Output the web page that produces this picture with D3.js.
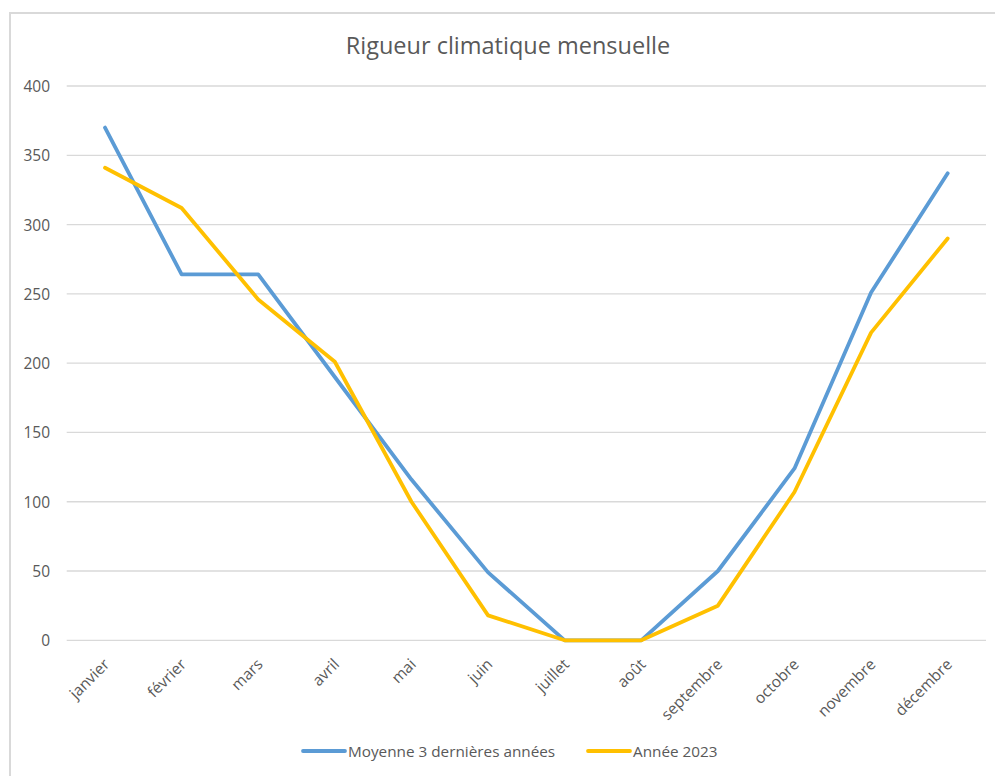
<!DOCTYPE html>
<html>
<head>
<meta charset="utf-8">
<script src="https://cdn.jsdelivr.net/npm/d3@7"></script>
<style>
  html, body { margin: 0; padding: 0; background: #fff; }
  svg { display: block; font-family: "Open Sans", "Noto Sans", sans-serif; }
</style>
</head>
<body>
<svg id="chart" width="995" height="776"></svg>
<script>
const months = ["janvier","février","mars","avril","mai","juin","juillet","août","septembre","octobre","novembre","décembre"];
const moyenne = [370, 264, 264, 190, 116, 49, 0, 0, 50, 124, 251, 337];
const annee2023 = [341, 312, 246, 201, 100, 18, 0, 0, 25, 107, 222, 290];
const yTicks = [0, 50, 100, 150, 200, 250, 300, 350, 400];
const seriesNames = ["Moyenne 3 dernières années", "Année 2023"];
const seriesColors = ["#5B9BD5", "#FFC000"];

const svg = d3.select("#chart");
const plotLeft = 66.7, plotRight = 986, plotTop = 86, plotBottom = 640.3;

// outer frame
svg.append("rect").attr("x", 10).attr("y", 13).attr("width", 1000).attr("height", 800)
  .attr("fill", "none").attr("stroke", "#d9d9d9").attr("stroke-width", 2);

const x = d3.scalePoint().domain(months).range([plotLeft, plotRight]).padding(0.5);
const y = d3.scaleLinear().domain([0, 400]).range([plotBottom, plotTop]);

// gridlines
svg.append("g").selectAll("line").data(yTicks).join("line")
  .attr("x1", plotLeft).attr("x2", plotRight)
  .attr("y1", d => y(d)).attr("y2", d => y(d))
  .attr("stroke", "#d9d9d9").attr("stroke-width", 1.3);

// y axis labels
const yAxis = d3.axisLeft(y).tickValues(yTicks).tickSize(0).tickPadding(0);
const gy = svg.append("g").attr("transform", "translate(50,0)").call(yAxis);
gy.select(".domain").remove();
gy.selectAll("text").attr("fill", "#595959").style("font-size", "15.5px")
  .style("font-family", "'Open Sans', sans-serif").attr("dy", "0.35em");

// x axis labels
const xAxis = d3.axisBottom(x).tickSize(0).tickPadding(0);
const gx = svg.append("g").attr("transform", `translate(0,${plotBottom})`).call(xAxis);
gx.select(".domain").remove();
gx.selectAll("text")
  .attr("fill", "#595959").style("font-size", "15.5px")
  .style("font-family", "'Open Sans', sans-serif")
  .attr("text-anchor", "end")
  .attr("y", 0).attr("dy", "0")
  .attr("transform", "translate(5,25) rotate(-45)");

// lines
const line = d3.line().x((d, i) => x(months[i])).y(d => y(d));
[moyenne, annee2023].forEach((s, k) => {
  svg.append("path").datum(s)
    .attr("d", line)
    .attr("fill", "none")
    .attr("stroke", seriesColors[k])
    .attr("stroke-width", 3.8)
    .attr("stroke-linejoin", "round")
    .attr("stroke-linecap", "round");
});

// title
svg.append("text").attr("x", 508).attr("y", 54).attr("text-anchor", "middle")
  .attr("fill", "#595959").style("font-size", "23.5px")
  .text("Rigueur climatique mensuelle");

// legend
const legendX = [303, 588];
seriesNames.forEach((n, k) => {
  const g = svg.append("g");
  g.append("line").attr("x1", legendX[k]).attr("x2", legendX[k] + 42)
    .attr("y1", 751).attr("y2", 751)
    .attr("stroke", seriesColors[k]).attr("stroke-width", 3.8).attr("stroke-linecap", "round");
  g.append("text").attr("x", legendX[k] + 45).attr("y", 756.5)
    .attr("fill", "#595959").style("font-size", "15.3px").text(n);
});
</script>
</body>
</html>
